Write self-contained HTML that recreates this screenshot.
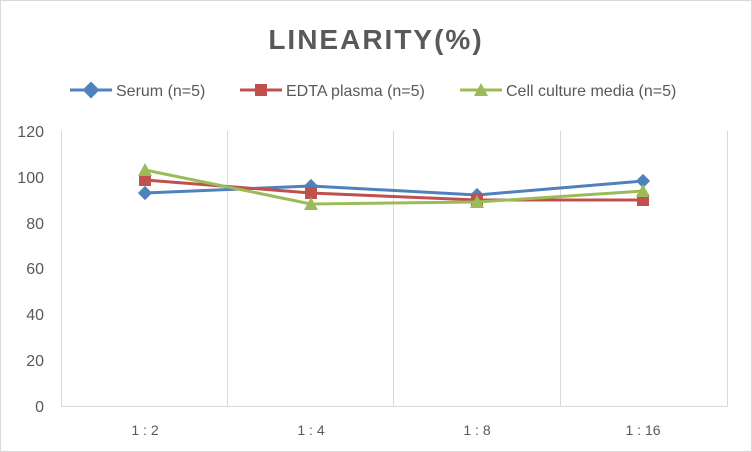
<!DOCTYPE html>
<html><head><style>
body{margin:0;background:#fff}
svg{display:block;font-family:"Liberation Sans",sans-serif}
</style></head><body>
<svg width="752" height="452" viewBox="0 0 752 452" xmlns="http://www.w3.org/2000/svg">
<rect x="0.5" y="0.5" width="751" height="451" fill="#fff" stroke="#d9d9d9"/>
<text x="376" y="49" text-anchor="middle" font-size="28" font-weight="bold" fill="#595959" letter-spacing="2" font-family="Liberation Sans Narrow, Liberation Sans, sans-serif">LINEARITY(%)</text>
<g font-size="16" fill="#595959">
<line x1="70" y1="90" x2="112" y2="90" stroke="#4f81bd" stroke-width="3"/>
<rect x="85" y="84" width="12" height="12" fill="#4f81bd" transform="rotate(45 91 90)"/>
<text x="116" y="96">Serum (n=5)</text>
<line x1="240" y1="90" x2="282" y2="90" stroke="#c0504d" stroke-width="3"/>
<rect x="255" y="84" width="12" height="12" fill="#c0504d"/>
<text x="286" y="96">EDTA plasma (n=5)</text>
<line x1="460" y1="90" x2="502" y2="90" stroke="#9bbb59" stroke-width="3"/>
<polygon points="481,83 488,96 474,96" fill="#9bbb59"/>
<text x="506" y="96">Cell culture media (n=5)</text>
</g>
<g stroke="#d9d9d9" stroke-width="1">
<line x1="61.5" y1="131" x2="61.5" y2="406"/>
<line x1="227.5" y1="131" x2="227.5" y2="406"/>
<line x1="393.5" y1="131" x2="393.5" y2="406"/>
<line x1="560.5" y1="131" x2="560.5" y2="406"/>
<line x1="727.5" y1="131" x2="727.5" y2="406"/>
<line x1="61" y1="406.5" x2="728" y2="406.5"/>
</g>
<g font-size="16" fill="#595959" text-anchor="end">
<text x="44" y="137">120</text><text x="44" y="183">100</text><text x="44" y="229">80</text>
<text x="44" y="274">60</text><text x="44" y="320">40</text><text x="44" y="366">20</text><text x="44" y="412">0</text>
</g>
<g font-size="14" fill="#595959" text-anchor="middle">
<text x="145" y="435">1 : 2</text><text x="311" y="435">1 : 4</text><text x="477" y="435">1 : 8</text><text x="643" y="435">1 : 16</text>
</g>
<polyline points="145,193 311,186 477,195 643,181" fill="none" stroke="#4f81bd" stroke-width="3"/>
<g fill="#4f81bd">
<rect x="140" y="188" width="10" height="10" transform="rotate(45 145 193)"/>
<rect x="306" y="181" width="10" height="10" transform="rotate(45 311 186)"/>
<rect x="472" y="190" width="10" height="10" transform="rotate(45 477 195)"/>
<rect x="638" y="176" width="10" height="10" transform="rotate(45 643 181)"/>
</g>
<polyline points="145,180 311,193 477,200 643,200" fill="none" stroke="#c0504d" stroke-width="3"/>
<g fill="#c0504d">
<rect x="139" y="174" width="12" height="12"/><rect x="305" y="187" width="12" height="12"/>
<rect x="471" y="194" width="12" height="12"/><rect x="637" y="194" width="12" height="12"/>
</g>
<polyline points="145,170 311,204 477,202 643,191" fill="none" stroke="#9bbb59" stroke-width="3"/>
<g fill="#9bbb59">
<polygon points="145,163 152,176 138,176"/><polygon points="311,197 318,210 304,210"/>
<polygon points="477,195 484,208 470,208"/><polygon points="643,184 650,197 636,197"/>
</g>
</svg>
</body></html>
